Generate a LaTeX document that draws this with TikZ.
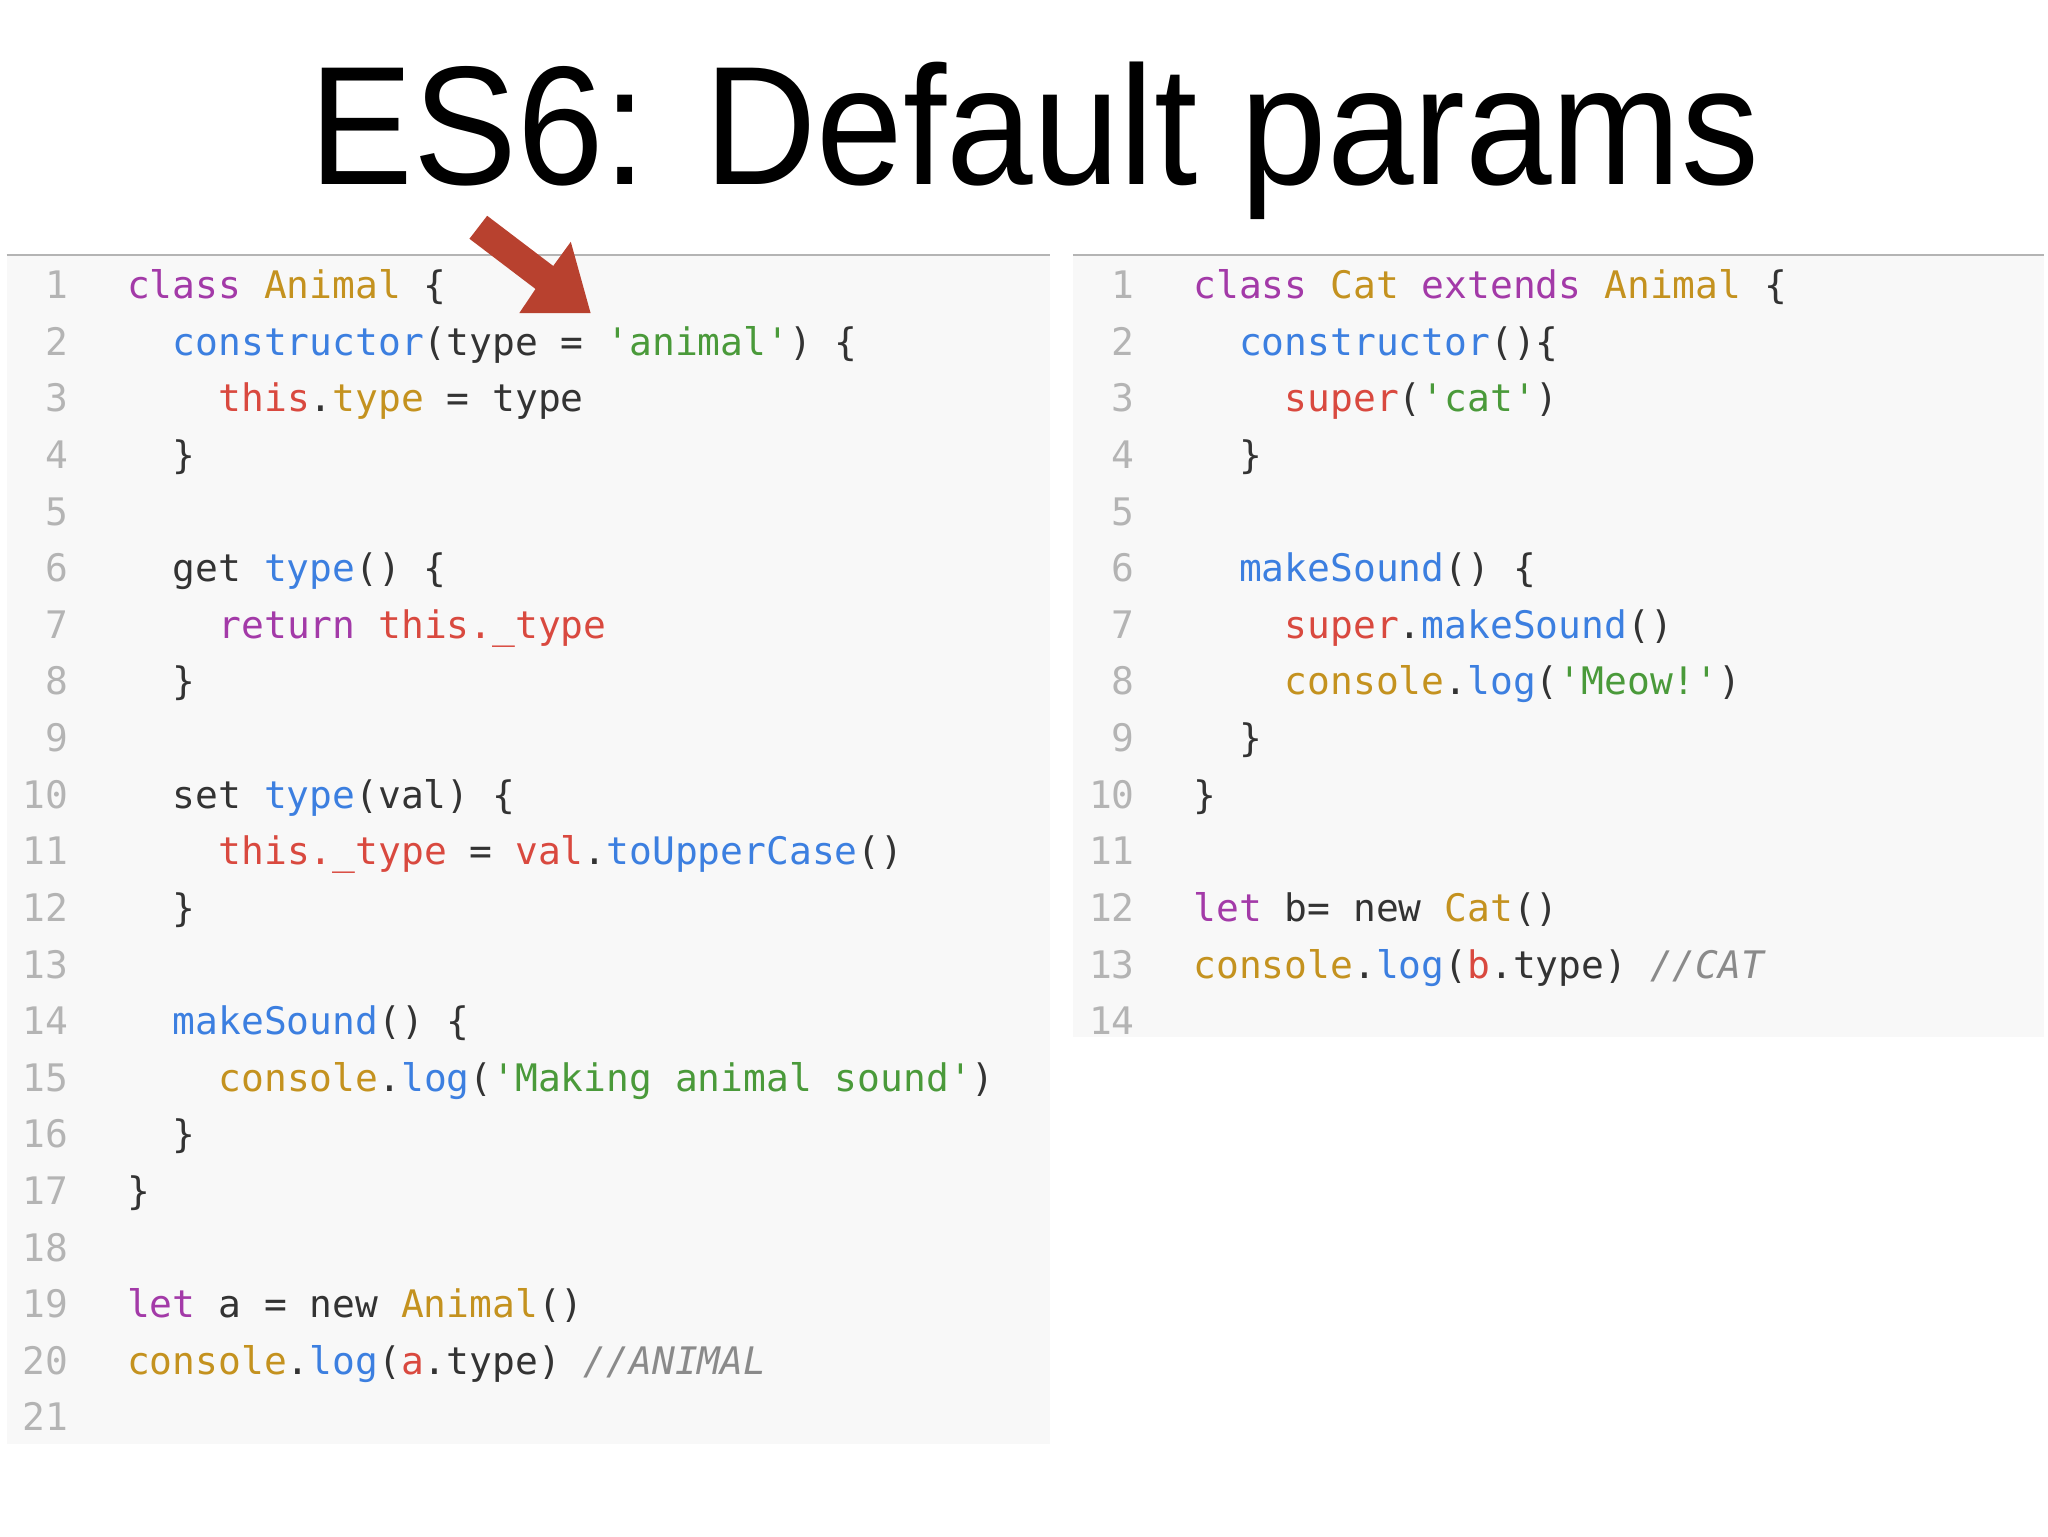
\documentclass[tikz,border=0pt]{standalone}
\usepackage{fontspec}
\setmainfont{Liberation Sans}
\newfontfamily\codef{DejaVu Sans Mono}
\definecolor{kw}{HTML}{A33AA8}
\definecolor{cls}{HTML}{C4921F}
\definecolor{fn}{HTML}{3C7FE0}
\definecolor{th}{HTML}{D9493F}
\definecolor{st}{HTML}{4A9A3A}
\definecolor{cm}{HTML}{8A8A8A}
\definecolor{ln}{HTML}{B4B4B4}
\definecolor{tx}{HTML}{333333}
\definecolor{pan}{HTML}{F8F8F8}
\definecolor{arr}{HTML}{B8412F}
\newcommand\K[1]{\textcolor{kw}{#1}}
\newcommand\C[1]{\textcolor{cls}{#1}}
\newcommand\F[1]{\textcolor{fn}{#1}}
\newcommand\T[1]{\textcolor{th}{#1}}
\newcommand\Sq[1]{\textcolor{st}{\char"27 #1\char"27}}
\newcommand\M[1]{\textcolor{cm}{\itshape #1}}
\tikzset{
 code/.style={anchor=base west,inner sep=0,font=\codef\fontsize{28.7}{30}\selectfont,text=tx},
 num/.style={anchor=base east,inner sep=0,font=\codef\fontsize{28.7}{30}\selectfont,text=ln}
}
\begin{document}
\begin{tikzpicture}[x=1pt,y=-1pt]
\useasboundingbox (0,0) rectangle (1550,1162.5);
\fill[pan] (5,193) rectangle (795,1093);
\fill[pan] (812,193) rectangle (1547,785);
\draw[ln,line width=1pt] (5,193) -- (795,193);
\draw[ln,line width=1pt] (812,193) -- (1547,193);
\node[anchor=base,inner sep=0,font=\fontsize{128}{135}\selectfont] (title) at (783,140) {\scalebox{0.92}[1]{ES6: Default params}};
\foreach \i in {1,...,21}{\node[num] (ln\i) at (52,226+42.85*\i-42.85) {\i};}
\foreach \i in {1,...,14}{\node[num] (rn\i) at (859,226+42.85*\i-42.85) {\i};}
\def\cw{17.3}
\def\Y#1{226+42.85*#1-42.85}
\node[code] (l1) at (96,{\Y1}) {\K{class} \C{Animal} \{};
\node[code] (l2) at (96+2*\cw,{\Y2}) {\F{constructor}(type = \Sq{animal}) \{};
\node[code] (l3) at (96+4*\cw,{\Y3}) {\T{this}.\C{type} = type};
\node[code] (l4) at (96+2*\cw,{\Y4}) {\}};
\node[code] (l6) at (96+2*\cw,{\Y6}) {get \F{type}() \{};
\node[code] (l7) at (96+4*\cw,{\Y7}) {\K{return} \T{this.\_type}};
\node[code] (l8) at (96+2*\cw,{\Y8}) {\}};
\node[code] (l10) at (96+2*\cw,{\Y{10}}) {set \F{type}(val) \{};
\node[code] (l11) at (96+4*\cw,{\Y{11}}) {\T{this.\_type} = \T{val}.\F{toUpperCase}()};
\node[code] (l12) at (96+2*\cw,{\Y{12}}) {\}};
\node[code] (l14) at (96+2*\cw,{\Y{14}}) {\F{makeSound}() \{};
\node[code] (l15) at (96+4*\cw,{\Y{15}}) {\C{console}.\F{log}(\Sq{Making animal sound})};
\node[code] (l16) at (96+2*\cw,{\Y{16}}) {\}};
\node[code] (l17) at (96,{\Y{17}}) {\}};
\node[code] (l19) at (96,{\Y{19}}) {\K{let} a = new \C{Animal}()};
\node[code] (l20) at (96,{\Y{20}}) {\C{console}.\F{log}(\T{a}.type) \M{//ANIMAL}};
\node[code] (r1) at (903,{\Y1}) {\K{class} \C{Cat} \K{extends} \C{Animal} \{};
\node[code] (r2) at (903+2*\cw,{\Y2}) {\F{constructor}()\{};
\node[code] (r3) at (903+4*\cw,{\Y3}) {\T{super}(\Sq{cat})};
\node[code] (r4) at (903+2*\cw,{\Y4}) {\}};
\node[code] (r6) at (903+2*\cw,{\Y6}) {\F{makeSound}() \{};
\node[code] (r7) at (903+4*\cw,{\Y7}) {\T{super}.\F{makeSound}()};
\node[code] (r8) at (903+4*\cw,{\Y8}) {\C{console}.\F{log}(\Sq{Meow!})};
\node[code] (r9) at (903+2*\cw,{\Y9}) {\}};
\node[code] (r10) at (903,{\Y{10}}) {\}};
\node[code] (r12) at (903,{\Y{12}}) {\K{let} b= new \C{Cat}()};
\node[code] (r13) at (903,{\Y{13}}) {\C{console}.\F{log}(\T{b}.type) \M{//CAT}};
\fill[arr] (368.7,163.3) -- (418.7,201.3) -- (432,183) -- (447,237) -- (393,237) -- (405.3,218.7) -- (355.3,180.7) -- cycle;
\end{tikzpicture}
\end{document}
